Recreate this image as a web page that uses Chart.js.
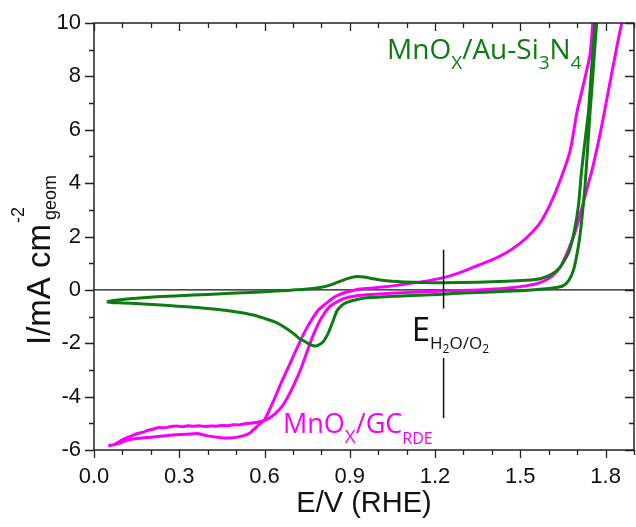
<!DOCTYPE html>
<html>
<head>
<meta charset="utf-8">
<script src="https://cdn.jsdelivr.net/npm/chart.js@4.4.1/dist/chart.umd.min.js"></script>
<style>
  html, body { margin: 0; padding: 0; background: #fff; }
</style>
</head>
<body>
<canvas id="cv" width="636" height="527"></canvas>
<script>
// MnOx / GC (RDE) cyclic voltammogram, E in V vs RHE, I in mA cm^-2
const gcE = [0.05, 0.07, 0.09, 0.11, 0.13, 0.15, 0.17, 0.19, 0.21, 0.23, 0.25, 0.27, 0.29, 0.31, 0.33, 0.35, 0.37, 0.39, 0.41, 0.43, 0.45, 0.47, 0.49, 0.51, 0.53, 0.55, 0.57, 0.59, 0.61, 0.64, 0.665, 0.69, 0.71, 0.73, 0.75, 0.775, 0.80, 0.83, 0.86, 0.889, 0.94, 0.99, 1.10, 1.23, 1.35, 1.45, 1.52, 1.57, 1.61, 1.64, 1.665, 1.686, 1.705, 1.72, 1.74, 1.755, 1.78, 1.80, 1.825, 1.845, 1.857, 1.87,
  1.76, 1.755, 1.745, 1.72, 1.70, 1.675, 1.64, 1.605, 1.575, 1.545, 1.50, 1.452, 1.40, 1.333, 1.28, 1.23, 1.15, 1.05, 0.99, 0.935, 0.89, 0.854, 0.835, 0.818, 0.79, 0.77, 0.745, 0.72, 0.69, 0.66, 0.63, 0.60, 0.58, 0.55, 0.52, 0.48, 0.44, 0.40, 0.38, 0.365, 0.34, 0.30, 0.25, 0.20, 0.15, 0.12, 0.10, 0.08, 0.05];
const gcI = [-5.84, -5.80, -5.68, -5.56, -5.48, -5.39, -5.34, -5.26, -5.21, -5.16, -5.17, -5.12, -5.10, -5.13, -5.09, -5.11, -5.09, -5.12, -5.10, -5.11, -5.08, -5.09, -5.05, -5.06, -5.02, -5.00, -4.97, -4.92, -4.85, -4.62, -4.32, -3.85, -3.40, -2.90, -2.30, -1.60, -1.05, -0.62, -0.42, -0.29, -0.20, -0.16, -0.10, -0.04, 0.00, 0.06, 0.15, 0.27, 0.50, 0.84, 1.40, 1.96, 2.60, 3.20, 4.00, 4.60, 5.80, 6.90, 8.30, 9.40, 10.0, 10.6,
  10.6, 10.0, 8.80, 7.60, 6.70, 5.20, 4.10, 3.20, 2.60, 2.20, 1.75, 1.40, 1.12, 0.84, 0.62, 0.46, 0.30, 0.15, 0.08, 0.03, -0.08, -0.22, -0.35, -0.50, -0.75, -1.05, -1.50, -2.05, -2.75, -3.45, -4.20, -4.87, -5.05, -5.35, -5.48, -5.55, -5.53, -5.47, -5.42, -5.38, -5.40, -5.42, -5.47, -5.52, -5.57, -5.62, -5.70, -5.78, -5.84];

// MnOx / Au-Si3N4
const auE = [0.045, 0.07, 0.10, 0.15, 0.22, 0.30, 0.40, 0.50, 0.60, 0.68, 0.74, 0.795, 0.83, 0.865, 0.90, 0.925, 0.95, 0.98, 1.02, 1.08, 1.15, 1.23, 1.35, 1.45, 1.52, 1.57, 1.61, 1.64, 1.67, 1.69, 1.705, 1.715, 1.73, 1.74, 1.75, 1.76, 1.765,
  1.772, 1.765, 1.755, 1.745, 1.735, 1.727, 1.718, 1.709, 1.697, 1.686, 1.67, 1.65, 1.62, 1.58, 1.50, 1.40, 1.30, 1.23, 1.10, 0.97, 0.93, 0.89, 0.87, 0.854, 0.84, 0.825, 0.806, 0.79, 0.777, 0.76, 0.748, 0.72, 0.70, 0.67, 0.64, 0.60, 0.57, 0.52, 0.48, 0.40, 0.34, 0.25, 0.16, 0.10, 0.06, 0.045];
const auI = [-0.45, -0.40, -0.36, -0.31, -0.26, -0.22, -0.17, -0.12, -0.07, -0.02, 0.02, 0.09, 0.18, 0.32, 0.45, 0.50, 0.48, 0.42, 0.35, 0.30, 0.28, 0.27, 0.29, 0.32, 0.36, 0.42, 0.58, 0.85, 1.40, 2.20, 3.20, 4.40, 5.80, 6.70, 8.20, 9.60, 10.5,
  10.5, 9.50, 8.00, 6.60, 5.00, 3.80, 2.80, 1.96, 1.20, 0.71, 0.35, 0.15, 0.08, 0.03, -0.03, -0.08, -0.12, -0.16, -0.22, -0.29, -0.35, -0.47, -0.60, -0.80, -1.20, -1.60, -1.95, -2.07, -2.10, -2.05, -1.97, -1.80, -1.62, -1.40, -1.22, -1.07, -0.97, -0.86, -0.79, -0.70, -0.64, -0.58, -0.52, -0.49, -0.47, -0.45];

const eRev = 1.23;               // E H2O/O2
const eRevUpper = [1.5, -0.7];   // marker segment above the label
const eRevLower = [-2.55, -4.8]; // marker segment below the label

const xTicks = [0.0, 0.3, 0.6, 0.9, 1.2, 1.5, 1.8];
const yTicks = [-6, -4, -2, 0, 2, 4, 6, 8, 10];

const MAGENTA = '#f700f7';
const GREEN = '#0e7a12';
const AXIS_FONT = "'Liberation Sans', Arial, sans-serif";
const LABEL_FONT = "'Open Sans', 'Noto Sans', sans-serif";

function toPoints(xs, ys) {
    return xs.map((x, i) => ({x: x, y: ys[i]}));
}

// draw a row of text pieces with their own size and baseline shift
function drawRich(ctx, runs, x, y, angle, family, color) {
    ctx.save();
    ctx.translate(x, y);
    if (angle) ctx.rotate(angle);
    ctx.fillStyle = color;
    ctx.textBaseline = 'alphabetic';
    ctx.textAlign = 'left';
    let cx = 0;
    runs.forEach(r => {
        ctx.font = r.size + 'px ' + family;
        ctx.fillText(r.text, cx + (r.dx || 0), r.dy || 0);
        if (!r.noAdvance) cx += ctx.measureText(r.text).width + (r.dx || 0);
    });
    ctx.restore();
}

const framePlugin = {
    id: 'frame',
    afterDatasetsDraw(chart) {
        const {ctx, chartArea: a, scales: {x, y}} = chart;
        ctx.save();
        ctx.strokeStyle = '#222';
        ctx.lineWidth = 1.5;
        ctx.strokeRect(a.left, a.top, a.right - a.left, a.bottom - a.top);

        ctx.lineWidth = 1.3;
        ctx.beginPath();
        for (let k = 0; k <= 19; k++) {
            const v = k / 10;
            const px = Math.round(x.getPixelForValue(v)) + 0.5;
            const major = k % 3 === 0;
            const len = major ? 8 : 5;
            ctx.moveTo(px, a.bottom);
            ctx.lineTo(px, a.bottom + len);
            ctx.moveTo(px, a.top);
            ctx.lineTo(px, a.top + len);
        }
        for (let v = -6; v <= 10; v++) {
            const py = Math.round(y.getPixelForValue(v)) + 0.5;
            const major = v % 2 === 0;
            const len = major ? 9 : 5;
            ctx.moveTo(a.left, py);
            ctx.lineTo(a.left - len, py);
            ctx.moveTo(a.right, py);
            ctx.lineTo(a.right - len, py);
        }
        ctx.stroke();
        ctx.restore();

        // y axis title with superscript and subscript
        drawRich(ctx, [
            {text: 'I/mA cm', size: 33},
            {text: '-2', size: 18, dy: -26, noAdvance: true, dx: 1},
            {text: 'geom', size: 18, dy: 6, dx: 4}
        ], 50, 345, -Math.PI / 2, AXIS_FONT, '#111');

        // curve labels
        drawRich(ctx, [
            {text: 'MnO', size: 28},
            {text: 'X', size: 19, dy: 10},
            {text: '/Au-Si', size: 28},
            {text: '3', size: 19, dy: 10},
            {text: 'N', size: 28},
            {text: '4', size: 19, dy: 10}
        ], x.getPixelForValue(1.031), y.getPixelForValue(8.65), 0, LABEL_FONT, GREEN);

        drawRich(ctx, [
            {text: 'MnO', size: 27},
            {text: 'X', size: 19, dy: 10},
            {text: '/GC', size: 27},
            {text: 'RDE', size: 16, dy: 11}
        ], x.getPixelForValue(0.665), y.getPixelForValue(-5.36), 0, LABEL_FONT, MAGENTA);

        drawRich(ctx, [
            {text: 'E', size: 33},
            {text: 'H', size: 17, dy: 8},
            {text: '2', size: 12, dy: 12},
            {text: 'O/O', size: 17, dy: 8},
            {text: '2', size: 12, dy: 12}
        ], x.getPixelForValue(1.118), y.getPixelForValue(-1.91), 0, LABEL_FONT, '#111');
    }
};

new Chart(document.getElementById('cv'), {
    type: 'scatter',
    data: {
        datasets: [
            {
                label: 'MnOx/Au-Si3N4',
                data: toPoints(auE, auI),
                showLine: true,
                borderColor: GREEN,
                borderWidth: 3,
                pointRadius: 0,
                tension: 0.2,
                order: 1
            },
            {
                label: 'MnOx/GC RDE',
                data: toPoints(gcE, gcI),
                showLine: true,
                borderColor: MAGENTA,
                borderWidth: 3,
                pointRadius: 0,
                tension: 0.2,
                order: 2
            },
            {
                label: 'zero',
                data: [{x: 0, y: 0}, {x: 1.9, y: 0}],
                showLine: true,
                borderColor: '#111',
                borderWidth: 1.2,
                pointRadius: 0,
                order: 3
            },
            {
                label: 'E rev upper',
                data: eRevUpper.map(v => ({x: eRev, y: v})),
                showLine: true,
                borderColor: '#111',
                borderWidth: 1.5,
                pointRadius: 0,
                order: 0
            },
            {
                label: 'E rev lower',
                data: eRevLower.map(v => ({x: eRev, y: v})),
                showLine: true,
                borderColor: '#111',
                borderWidth: 1.5,
                pointRadius: 0,
                order: 0
            }
        ]
    },
    options: {
        responsive: false,
        animation: false,
        layout: {padding: {top: 23, right: 2, left: 0, bottom: 0}},
        plugins: {
            legend: {display: false},
            tooltip: {enabled: false}
        },
        scales: {
            x: {
                type: 'linear',
                min: 0,
                max: 1.9,
                afterBuildTicks: s => { s.ticks = xTicks.map(v => ({value: v})); },
                afterFit: s => { s.height = 77; },
                border: {display: false},
                grid: {drawOnChartArea: false, color: 'rgba(0,0,0,0)', tickLength: 8},
                ticks: {
                    callback: v => v.toFixed(1),
                    font: {family: AXIS_FONT, size: 22},
                    color: '#111',
                    padding: 6,
                    maxRotation: 0,
                    autoSkip: false
                },
                title: {
                    display: true,
                    text: 'E/V (RHE)',
                    font: {family: AXIS_FONT, size: 29},
                    color: '#111',
                    padding: {top: 0, bottom: 6}
                }
            },
            y: {
                type: 'linear',
                min: -6,
                max: 10,
                afterBuildTicks: s => { s.ticks = yTicks.map(v => ({value: v})); },
                afterFit: s => { s.width = 94; },
                border: {display: false},
                grid: {drawOnChartArea: false, color: 'rgba(0,0,0,0)', tickLength: 9},
                ticks: {
                    callback: v => String(v),
                    font: {family: AXIS_FONT, size: 22},
                    color: '#111',
                    padding: 4
                }
            }
        }
    },
    plugins: [framePlugin]
});
</script>
</body>
</html>
